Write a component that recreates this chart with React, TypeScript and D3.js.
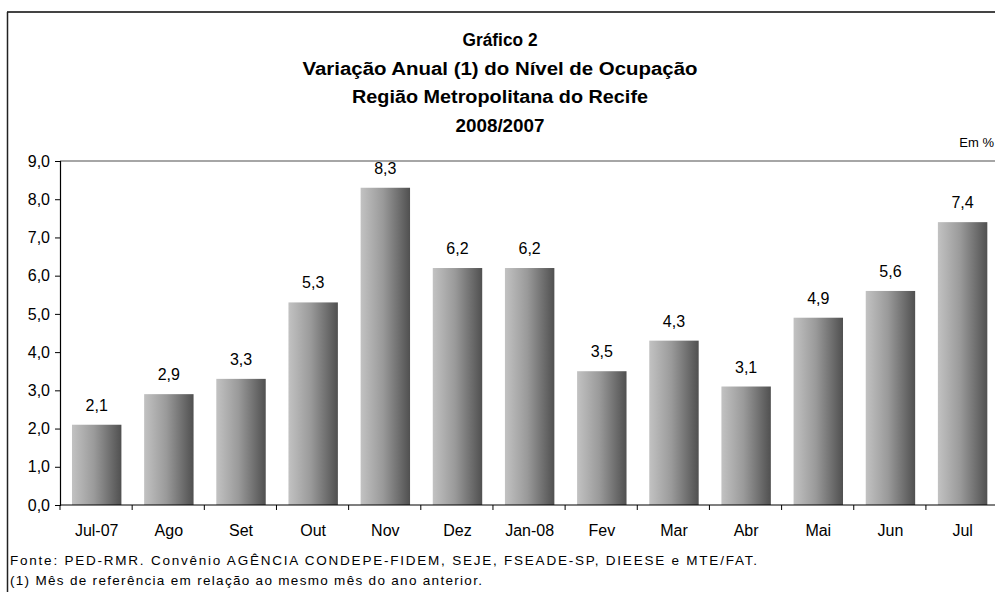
import * as d3 from 'd3';
import React, { useEffect, useRef } from 'react';

const categories = ['Jul-07', 'Ago', 'Set', 'Out', 'Nov', 'Dez', 'Jan-08', 'Fev', 'Mar', 'Abr', 'Mai', 'Jun', 'Jul'];
const values = [2.1, 2.9, 3.3, 5.3, 8.3, 6.2, 6.2, 3.5, 4.3, 3.1, 4.9, 5.6, 7.4];
const yTicks = [0, 1, 2, 3, 4, 5, 6, 7, 8, 9];
const titleLines = ['Gráfico 2', 'Variação Anual (1) do Nível de Ocupação', 'Região Metropolitana do Recife', '2008/2007'];
const notes = [
  'Fonte: PED-RMR. Convênio AGÊNCIA CONDEPE-FIDEM, SEJE, FSEADE-SP, DIEESE e MTE/FAT.',
  '(1) Mês de referência em relação ao mesmo mês do ano anterior.',
];

// widths the text is stretched to
const titleWidths = [75, 395, 296, 89];
const noteWidths = [747, 472];

const fmt = (v: number) => v.toFixed(1).replace('.', ',');

const App = () => {
  const ref = useRef<SVGSVGElement>(null);

  useEffect(() => {
    const svg = d3.select(ref.current);
    svg.selectAll('*').remove();
    const width = 995;
    const height = 592;
    const margin = { top: 161, bottom: 87, left: 60 };
    const plotRight = 999.3;
    const font = 'Arial, "Liberation Sans", sans-serif';

    const defs = svg.append('defs');
    const grad = defs.append('linearGradient').attr('id', 'barGrad').attr('x1', '0').attr('x2', '1').attr('y1', '0').attr('y2', '0');
    grad.append('stop').attr('offset', '0%').attr('stop-color', '#c2c2c2');
    grad.append('stop').attr('offset', '45%').attr('stop-color', '#9a9a9a');
    grad.append('stop').attr('offset', '100%').attr('stop-color', '#505050');

    // frame
    svg.append('line').attr('x1', 7).attr('x2', width).attr('y1', 12).attr('y2', 12).attr('stroke', '#444').attr('stroke-width', 2);
    svg.append('line').attr('x1', 7.5).attr('x2', 7.5).attr('y1', 12).attr('y2', height).attr('stroke', '#222').attr('stroke-width', 1.5);

    const x = d3.scaleBand().domain(categories).range([margin.left, plotRight]).paddingInner(0.315).paddingOuter(0.166);
    const y = d3.scaleLinear().domain([0, 9]).range([height - margin.bottom, margin.top]);

    // top plot border
    svg.append('line').attr('x1', margin.left).attr('x2', width).attr('y1', y(9)).attr('y2', y(9)).attr('stroke', '#888').attr('stroke-width', 1.5);

    const title = svg.append('g').attr('font-family', font).attr('font-weight', 'bold').attr('font-size', 18).attr('text-anchor', 'middle');
    titleLines.forEach((t, i) => {
      title.append('text')
        .attr('x', 500)
        .attr('y', 46 + i * 28.5)
        .attr('textLength', titleWidths[i])
        .attr('lengthAdjust', 'spacingAndGlyphs')
        .text(t);
    });
    svg.append('text').attr('x', 994).attr('y', 147).attr('text-anchor', 'end').attr('font-family', font).attr('font-size', 13).text('Em %');

    svg.append('g')
      .selectAll('rect')
      .data(values)
      .join('rect')
      .attr('x', (_, i) => x(categories[i]) as number)
      .attr('width', x.bandwidth())
      .attr('y', (d) => y(d))
      .attr('height', (d) => y(0) - y(d))
      .attr('fill', 'url(#barGrad)');

    svg.append('g')
      .attr('font-family', font)
      .attr('font-size', 16)
      .attr('text-anchor', 'middle')
      .selectAll('text')
      .data(values)
      .join('text')
      .attr('x', (_, i) => (x(categories[i]) as number) + x.bandwidth() / 2)
      .attr('y', (d) => y(d) - 14)
      .text((d) => fmt(d));

    const yAxis = svg.append('g')
      .attr('transform', `translate(${margin.left},0)`)
      .call(d3.axisLeft(y).tickValues(yTicks).tickSize(5).tickPadding(5).tickFormat((d) => fmt(d as number)));
    yAxis.select('.domain').attr('stroke', '#000').attr('stroke-width', 1.2);
    yAxis.selectAll('.tick line').attr('stroke', '#000');
    yAxis.selectAll('text').attr('font-family', font).attr('font-size', 16).attr('fill', '#000');

    const step = x.step();
    const bounds = d3.range(categories.length + 1).map((i) => margin.left + i * step);
    const xg = svg.append('g');
    xg.append('line').attr('x1', margin.left).attr('x2', width).attr('y1', y(0)).attr('y2', y(0)).attr('stroke', '#000').attr('stroke-width', 1.2);
    xg.selectAll('.tk').data(bounds).join('line').attr('class', 'tk')
      .attr('x1', (d) => d).attr('x2', (d) => d).attr('y1', y(0)).attr('y2', y(0) + 5).attr('stroke', '#000');
    xg.selectAll('text').data(categories).join('text')
      .attr('x', (d) => (x(d) as number) + x.bandwidth() / 2)
      .attr('y', y(0) + 31)
      .attr('text-anchor', 'middle')
      .attr('font-family', font)
      .attr('font-size', 16)
      .text((d) => d);

    notes.forEach((t, i) => {
      svg.append('text')
        .attr('x', 10)
        .attr('y', 565 + i * 19.5)
        .attr('font-family', font)
        .attr('font-size', 13.5)
        .attr('textLength', noteWidths[i])
        .attr('lengthAdjust', 'spacing')
        .text(t);
    });
  }, []);

  return (
    <svg ref={ref} width={995} height={592} style={{ position: 'absolute', left: 0, top: 0, background: '#fff' }} />
  );
};

export default App;
